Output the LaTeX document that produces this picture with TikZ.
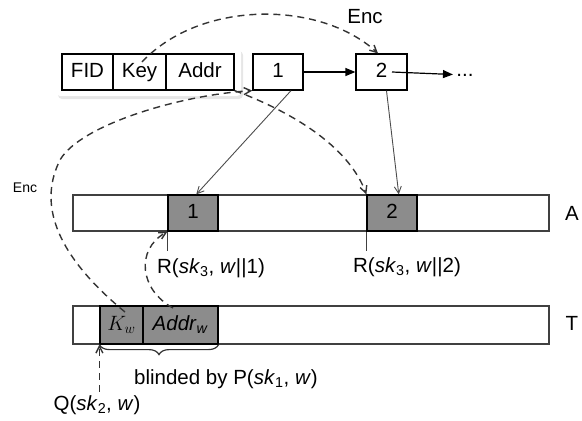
\documentclass[tikz,border=0pt]{standalone}
\usepackage{fontspec}
\setmainfont{Liberation Sans}
\usetikzlibrary{arrows.meta,shadows,decorations.pathreplacing}

\begin{document}
\begin{tikzpicture}[x=1pt,y=-1pt]
  \tikzset{txt/.style={font=\fontsize{20.5}{24}\selectfont},
    field/.style={txt,draw,line width=1.2pt,minimum height=36pt,inner sep=0pt,text height=14pt,text depth=3pt},
    slot/.style={field,fill=black!45},
    array/.style={draw=black!75,line width=1.6pt,minimum height=36pt,minimum width=476pt,inner sep=0pt},
    link/.style={-{Triangle[length=10pt,width=8pt]},line width=1.2pt},
    ptr/.style={-{Straight Barb[length=7pt,width=7pt]},black!70,line width=0.9pt},
    enc/.style={-{Straight Barb[length=7pt,width=7pt]},dash pattern=on 7pt off 5pt,line width=1.4pt,black!80}}
  \useasboundingbox (0,0) rectangle (582,421);
  \path[fill=white,rounded corners=4pt,drop shadow={opacity=0.2,shadow xshift=2pt,shadow yshift=-3pt}] (56,48) rectangle (241,96);
  \node[field,minimum width=51pt] (fid) at (87.5,72) {FID};
  \node[field,minimum width=53pt] (key) at (139.5,72) {Key};
  \node[field,minimum width=68pt] (addr) at (200,72) {Addr};
  \node[field,minimum width=50pt] (one) at (278,72) {1};
  \node[field,minimum width=51pt] (two) at (381.5,72) {2};
  \node[txt] (dots) at (465,75) {...};
  \coordinate (twoout) at (392,72);
  \draw[link] (one) -- (two);
  \draw[link] (twoout) -- (dots);
  \node[array] (arrA) at (311,213) {};
  \node[slot,minimum width=50pt] (a1) at (193,213) {1};
  \node[slot,minimum width=50pt] (a2) at (392,213) {2};
  \node[txt] (labA) at (572,213) {A};
  \node[array,minimum height=38pt] (arrT) at (311,325) {};
  \node[slot,minimum width=43pt,minimum height=38pt] (kw) at (121.5,325) {$K_w$};
  \node[slot,minimum width=75pt,minimum height=38pt] (addrw) at (180.5,325) {\textit{Addr}\textsubscript{\textit{w}}};
  \node[txt] (labT) at (572,323) {T};
  \draw[black!75,line width=1.4pt] (a1.south west) -- ++(0,19) coordinate (r1);
  \draw[black!75,line width=1.4pt] (a2.south west) -- ++(0,19) coordinate (r2);
  \node[txt] (lr1) at (211,268) {R(\textit{sk}\textsubscript{3}, \textit{w}||1)};
  \node[txt] (lr2) at (407,267) {R(\textit{sk}\textsubscript{3}, \textit{w}||2)};
  \draw[ptr] (one.-55) -- (a1.80);
  \draw[ptr] (two.-75) -- (a2.70);
  \draw[decorate,decoration={brace,mirror,amplitude=10pt},line width=1.2pt,black!80] (kw.south west) -- (addrw.south east);
  \node[txt] (blind) at (226,379) {blinded by P(\textit{sk}\textsubscript{1}, \textit{w})};
  \node[txt] (q) at (97,405) {Q(\textit{sk}\textsubscript{2}, \textit{w})};
  \draw[enc] (q.north -| kw.south west) -- (kw.south west);
  \coordinate (keyin) at (142,62);
  \coordinate (kwin) at (125,312);
  \coordinate (addrwin) at (173,308);
  \draw[enc] (keyin) .. controls (200,0) and (320,0) .. (two.north west -| 378,0);
  \draw[enc] (addr.south east) .. controls (300,115) and (350,150) .. (a2.north west);
  \draw[enc] (kwin) .. controls (50,250) and (40,200) .. (60,160) .. controls (80,125) and (180,95) .. (one.south west);
  \draw[enc] (addrwin) .. controls (140,290) and (135,250) .. (a1.south west);
  \node[txt] (enctop) at (365,17) {Enc};
  \node[font=\fontsize{14}{16}\selectfont] (encleft) at (25,188) {Enc};
\end{tikzpicture}
\end{document}
